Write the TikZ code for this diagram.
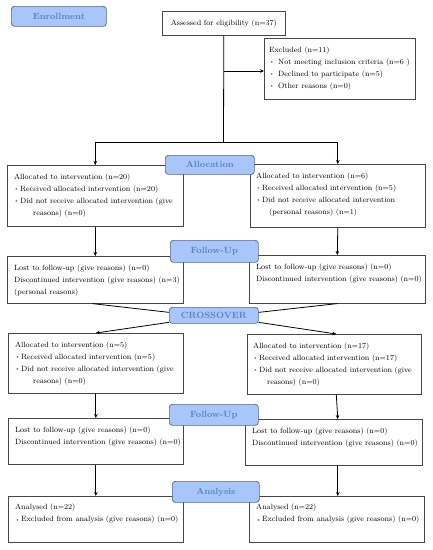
\documentclass[tikz,border=0pt]{standalone}
\usetikzlibrary{arrows.meta,calc}
\definecolor{lblfill}{RGB}{168,198,250}
\definecolor{lbldraw}{RGB}{85,100,135}
\definecolor{lbltext}{RGB}{88,130,196}
\definecolor{boxdraw}{RGB}{70,70,70}
\newcommand\bul{\makebox[6pt][l]{\hspace{1.2pt}\textcolor{black!55}{\raisebox{0.9pt}{\scalebox{0.55}{$\bullet$}}}}}
\newcommand\bulx{\makebox[9pt][l]{\hspace{1.5pt}\textcolor{black!55}{\raisebox{0.9pt}{\scalebox{0.55}{$\bullet$}}}}}
\begin{document}
\begin{tikzpicture}[x=1pt,y=-1pt,
  box/.style={draw=boxdraw,line width=0.6pt,fill=white,rectangle,inner sep=0pt,anchor=north west},
  txt/.style={inner sep=0pt,anchor=north west,align=left,font=\fontsize{7.6}{12}\selectfont},
  lbl/.style={draw=lbldraw,line width=0.7pt,fill=lblfill,rounded corners=3pt,inner sep=0pt,anchor=north west,
    text=lbltext,font=\fontsize{9}{10}\selectfont\bfseries},
  arr/.style={-{Stealth[length=4pt,width=3.6pt]},line width=0.8pt},
  ln/.style={line width=0.8pt}]
\useasboundingbox (0,0) rectangle (432,550);
% boxes
\node[box,minimum width=123pt,minimum height=24pt,font=\fontsize{7.6}{12}\selectfont] (assess) at (162,11) {Assessed for eligibility (n=37)};
\node[box,minimum width=151pt,minimum height=61pt] (excl) at (264,38) {};
\node[box,minimum width=176pt,minimum height=61pt] (a1) at (7,165) {};
\node[box,minimum width=175pt,minimum height=63pt] (a2) at (250,164) {};
\node[box,minimum width=176pt,minimum height=47pt] (f1) at (7,256) {};
\node[box,minimum width=176pt,minimum height=48pt] (f2) at (249,255) {};
\node[box,minimum width=175pt,minimum height=60pt] (a3) at (8,333) {};
\node[box,minimum width=174pt,minimum height=60pt] (a4) at (247,334) {};
\node[box,minimum width=175pt,minimum height=46pt] (f3) at (8,418) {};
\node[box,minimum width=177pt,minimum height=46pt] (f4) at (245,419) {};
\node[box,minimum width=175pt,minimum height=46pt] (n1) at (8,496) {};
\node[box,minimum width=175pt,minimum height=46pt] (n2) at (249,496) {};
% texts
\node[txt] (excl-t) at ([xshift=5pt,yshift=-8.5pt]excl.north west) {Excluded (n=11)\\\bulx Not meeting inclusion criteria (n=6 )\\\bulx Declined to participate (n=5)\\\bulx Other reasons (n=0)};
\node[txt] (a1-t) at ([xshift=7pt,yshift=-8.5pt]a1.north west) {Allocated to intervention (n=20)\\\bul Received allocated intervention (n=20)\\\bul Did not receive allocated intervention (give\\\hspace*{19pt}reasons) (n=0)};
\node[txt] (a2-t) at ([xshift=6pt,yshift=-8.5pt]a2.north west) {Allocated to intervention (n=6)\\\bul Received allocated intervention (n=5)\\\bul Did not receive allocated intervention\\\hspace*{13pt}(personal reasons) (n=1)};
\node[txt] (f1-t) at ([xshift=7pt,yshift=-8.5pt]f1.north west) {Lost to follow-up (give reasons) (n=0)\\Discontinued intervention (give reasons) (n=3)\\(personal reasons)};
\node[txt] (f2-t) at ([xshift=7pt,yshift=-8.5pt]f2.north west) {Lost to follow-up (give reasons) (n=0)\\Discontinued intervention (give reasons) (n=0)};
\node[txt] (a3-t) at ([xshift=7pt,yshift=-8.5pt]a3.north west) {Allocated to intervention (n=5)\\\bul Received allocated intervention (n=5)\\\bul Did not receive allocated intervention (give\\\hspace*{18pt}reasons) (n=0)};
\node[txt] (a4-t) at ([xshift=6pt,yshift=-8.5pt]a4.north west) {Allocated to intervention (n=17)\\\bul Received allocated intervention (n=17)\\\bul Did not receive allocated intervention (give\\\hspace*{14pt}reasons) (n=0)};
\node[txt] (f3-t) at ([xshift=7pt,yshift=-8.5pt]f3.north west) {Lost to follow-up (give reasons) (n=0)\\Discontinued intervention (give reasons) (n=0)};
\node[txt] (f4-t) at ([xshift=7pt,yshift=-8.5pt]f4.north west) {Lost to follow-up (give reasons) (n=0)\\Discontinued intervention (give reasons) (n=0)};
\node[txt] (n1-t) at ([xshift=7pt,yshift=-8pt]n1.north west) {Analysed (n=22)\\\bul Excluded from analysis (give reasons) (n=0)};
\node[txt] (n2-t) at ([xshift=7pt,yshift=-8pt]n2.north west) {Analysed (n=22)\\\bul Excluded from analysis (give reasons) (n=0)};
% labels
\node[lbl,minimum width=95pt,minimum height=20pt] (enroll) at (11,6) {Enrollment};
\node[lbl,minimum width=89pt,minimum height=19pt] (alloc) at (165,155) {Allocation};
\node[lbl,minimum width=88pt,minimum height=22pt] (fu1) at (170,240) {Follow-Up};
\node[lbl,minimum width=89pt,minimum height=16pt] (cross) at (169,307) {CROSSOVER};
\node[lbl,minimum width=89pt,minimum height=21pt] (fu2) at (169,404) {Follow-Up};
\node[lbl,minimum width=87pt,minimum height=21pt] (anl) at (172,481) {Analysis};
% connectors
\coordinate (j0) at (223.5,71);
\coordinate (j1) at (223.5,142);
\draw[ln] (assess.south) -- (j1);
\draw[arr] (j0) -- (j0 -| excl.west);
\draw[arr] (j1) -| (a1.north);
\draw[arr] (j1) -| (a2.north);
\draw[arr] (a1.south) -- (f1.north);
\draw[arr] (a2.south) -- (f2.north);
\draw[ln] ([xshift=-3pt]f1.south) -- ([yshift=3pt]cross.west);
\draw[arr] ([yshift=-7pt]cross.west) -- (a3.north);
\draw[ln] (f2.south) -- ([yshift=3pt]cross.east);
\draw[arr] ([yshift=-7pt]cross.east) -- ([xshift=2pt]a4.north);
\draw[arr] (a3.south) -- (f3.north);
\draw[arr] ([xshift=2pt]a4.south) -- ([xshift=4pt]f4.north);
\draw[arr] (f3.south) -- (n1.north);
\draw[arr] ([xshift=4pt]f4.south) -- ([xshift=1pt]n2.north);
\end{tikzpicture}
\end{document}
